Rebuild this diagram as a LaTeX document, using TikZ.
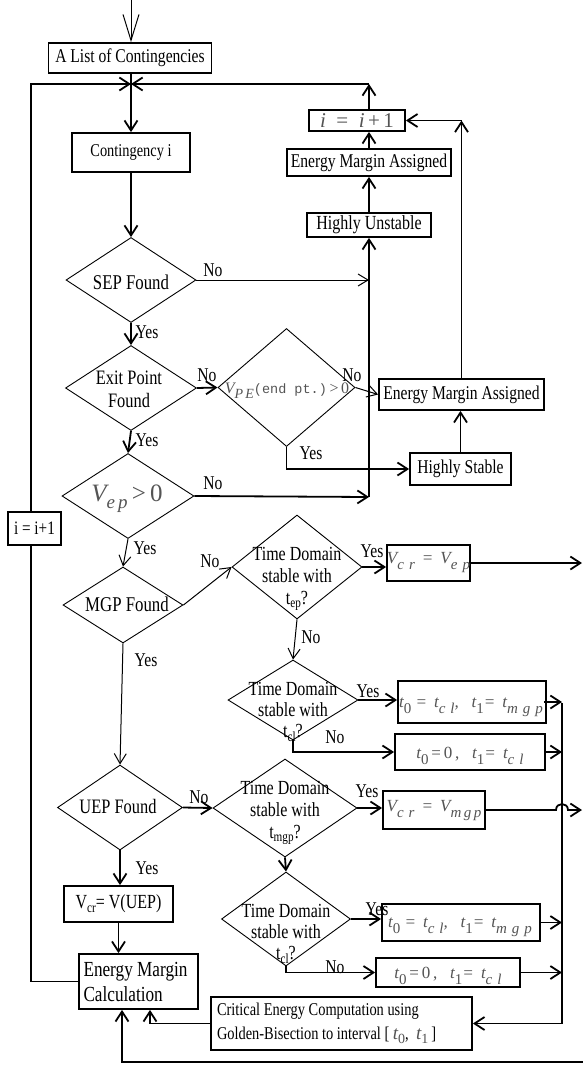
\documentclass[tikz,border=0pt]{standalone}
\usepackage{fontspec}
\setmainfont{Liberation Serif}[FakeStretch=0.8]
\newfontfamily\mfont{Liberation Serif}
\newfontfamily\monof{Liberation Mono}
\usetikzlibrary{shapes.geometric,arrows.meta}
\definecolor{mgray}{gray}{0.33}
\newcommand\fsz[2]{\fontsize{#1}{#2}\selectfont}
\newcommand\lo[1]{\raisebox{-6pt}{\fsz{15}{15}#1}}
\newcommand\sbs[1]{\raisebox{-3.5pt}{\fsz{14}{14}#1}}
\begin{document}
\begin{tikzpicture}[x=1pt,y=-1pt,
  box/.style={draw,line width=1.8pt,inner sep=0pt,fill=white,align=center},
  dia/.style={draw,diamond,line width=0.9pt,inner sep=0pt},
  txt/.style={inner sep=0pt,align=center},
  lbl/.style={inner sep=0pt,font=\fsz{19.5}{20}},
  con/.style={line width=1.8pt,-{Straight Barb[length=10pt,width=13pt]}},
  tcon/.style={line width=1pt,-{Straight Barb[length=10pt,width=12pt]}},
  mth/.style={inner sep=0pt,text=mgray},
]
\useasboundingbox (0,0) rectangle (583,1068);

% ---- nodes ----
\node[box,minimum width=163,minimum height=30,font=\fsz{19.5}{22}] (list) at (130,58) {A List of Contingencies};
\node[box,minimum width=118,minimum height=39,font=\fsz{18}{20}] (cont) at (131,152.5) {Contingency i};

\node[dia,minimum width=130,minimum height=85] (sep) at (131,280) {};
\node[txt,font=\fsz{21}{22}] (sept) at (131,282) {SEP Found};
\node[dia,minimum width=131,minimum height=85] (ex) at (131,388) {};
\node[txt,font=\fsz{20.5}{23}] (ext) at (129,389) {Exit Point\\Found};
\node[dia,minimum width=137,minimum height=118] (vpe) at (286.5,387.5) {};
\node[mth,font=\mfont\fsz{16}{16}] (vpet) at (287,391) {{\itshape V}\raisebox{-5pt}{\fsz{14}{14}\itshape P\,E}{\monof\fsz{13.5}{14}(end pt.)}\,>\,0};

\node[box,minimum width=164,minimum height=27,font=\fsz{19.5}{22}] (ema1) at (369,162.5) {Energy Margin Assigned};
\node[box,minimum width=124,minimum height=24,font=\fsz{20}{22}] (hu) at (369,225) {Highly Unstable};
\node[box,minimum width=96,minimum height=21] (iinc) at (357,120.5) {};
\node[mth,font=\mfont\fsz{21}{21}] (iinct) at (357,120.5) {{\itshape i}\ \ =\ \ {\itshape i}\,+\,1};
\node[box,minimum width=165,minimum height=31,font=\fsz{19.5}{22}] (ema2) at (461.5,394.5) {Energy Margin Assigned};
\node[box,minimum width=101,minimum height=32,font=\fsz{19.5}{22}] (hs) at (460.5,469) {Highly Stable};

\node[dia,minimum width=132,minimum height=85] (vep) at (128,496) {};
\node[mth,font=\mfont\fsz{25}{25}] (vept) at (127,499) {{\itshape V}\raisebox{-7pt}{\fsz{19}{19}\itshape e\,p}\,>\,0};

\node[dia,minimum width=120,minimum height=76] (mgp) at (123,605) {};
\node[txt,font=\fsz{21}{22}] (mgpt) at (127,604) {MGP Found};

\node[dia,minimum width=130,minimum height=104] (td1) at (297,567) {};
\node[txt,font=\fsz{20}{22}] (td1t) at (297,579) {Time Domain\\stable with\\t\sbs{ep}?};
\node[box,minimum width=83,minimum height=36] (vcrep) at (428.5,563) {};
\node[mth,font=\mfont\itshape\fsz{17}{17}] (vcrept) at (428.5,563) {V\lo{c\,\,r}\ \,=\ \,V\lo{e\,\,p}};

\node[dia,minimum width=130,minimum height=80] (td2) at (293,700) {};
\node[txt,font=\fsz{20}{21}] (td2t) at (293,712) {Time Domain\\stable with\\t\sbs{cl}?};
\node[box,minimum width=148,minimum height=42] (b1) at (472,702) {};
\node[mth,font=\mfont\itshape\fsz{17}{17}] (b1t) at (471,707) {t\lo{\upshape 0}\ =\ \,t\lo{c\,\,l},\ \ \ t\lo{\upshape 1}=\ \,t\lo{m\,\,g\,\,p}};
\node[box,minimum width=150,minimum height=36] (b2) at (470,752) {};
\node[mth,font=\mfont\itshape\fsz{17}{17}] (b2t) at (470,756) {t\lo{\upshape 0}{\upshape\,=\,0\,,}\ \ \ t\lo{\upshape 1}=\ \,t\lo{c\,\,l}};

\node[dia,minimum width=125,minimum height=85] (uep) at (120,807.5) {};
\node[txt,font=\fsz{20.5}{22}] (uept) at (118,806) {UEP Found};

\node[dia,minimum width=144,minimum height=98] (td3) at (285,808) {};
\node[txt,font=\fsz{20}{22}] (td3t) at (285,813) {Time Domain\\stable with\\t\sbs{mgp}?};
\node[box,minimum width=102,minimum height=38] (vcrmgp) at (434,810) {};
\node[mth,font=\mfont\itshape\fsz{17}{17}] (vcrmgpt) at (434,811) {V\lo{c\,\,r}\ \,=\ \,V\lo{m\,g\,p}};

\node[dia,minimum width=129,minimum height=94] (td4) at (286,919) {};
\node[txt,font=\fsz{20}{21}] (td4t) at (286,934) {Time Domain\\stable with\\t\sbs{cl}?};
\node[box,minimum width=158,minimum height=37] (b3) at (461,922.5) {};
\node[mth,font=\mfont\itshape\fsz{17}{17}] (b3t) at (460,927) {t\lo{\upshape 0}\ =\ \,t\lo{c\,\,l},\ \ \ t\lo{\upshape 1}=\ \,t\lo{m\,\,g\,\,p}};
\node[box,minimum width=144,minimum height=29] (b4) at (448,972.5) {};
\node[mth,font=\mfont\itshape\fsz{17}{17}] (b4t) at (448,976) {t\lo{\upshape 0}{\upshape\,=\,0\,,}\ \ \ t\lo{\upshape 1}=\ \,t\lo{c\,\,l}};

\node[box,minimum width=109,minimum height=36,font=\fsz{20}{22}] (vuep) at (118.5,904) {V\sbs{cr}= V(UEP)};
\node[box,minimum width=119,minimum height=55,text width=110,font=\fsz{21.5}{25},align=flush left] (emc) at (138.5,981.5) {Energy Margin\\Calculation};
\node[box,minimum width=261,minimum height=53,text width=249,font=\fsz{18}{24},align=flush left] (crit) at (341.5,1023.5) {Critical Energy Computation using\\Golden-Bisection to interval [\ {\mfont\itshape\color{mgray}\fsz{19}{24}t\sbs{\upshape 0}},\ \ {\mfont\itshape\color{mgray}\fsz{19}{24}t\sbs{\upshape 1}}\,]};

% ---- coordinates ----
\coordinate (entry) at (131,0);
\coordinate (J) at (131,84);
\coordinate (LT) at (31,84);
\coordinate (V1) at (369,497);
\coordinate (RB) at (562,703);
\coordinate (RE1) at (582,563);
\coordinate (EB) at (122,1062);
\coordinate (BR) at (583,1062);
\coordinate (EC) at (150,1027);

% ---- connectors ----
\draw[line width=1pt,-{Straight Barb[length=26pt,width=16pt]}] (entry) -- (entry |- list.north);
\draw[con] (cont.north |- list.south) -- (cont.north);
\draw[con] (cont.south) -- (sep.north);
\draw[tcon] (sep.east) -- (sep.east -| V1);
\draw[con] (sep.south) -- (ex.north);
\draw[con] (ex.east) -- (vpe.west);
\draw[tcon] (vpe.east) -- (ema2.west);
\draw[con] (vpe.south) |- (hs.west);
\draw[con] (hs.north) -- (hs.north |- ema2.south);
\draw[con] (ema2.north) -- (ema2.north |- iinc.east);
\draw[con] (ema2.north |- iinc.east) -- (iinc.east);
\draw[con] (ex.south) -- (vep.north);
\draw[con] (vep.east) -- (V1);
\draw[con] (V1) -- (hu.south);
\draw[con] (hu.north) -- (ema1.south);
\draw[con] (ema1.north) -- (ema1.north |- iinc.south);
\draw[con] (ema1.north |- iinc.north) -- (ema1.north |- J);
\draw[con] (ema1.north |- J) -- (J);
\draw[con] (emc.west) -- (emc.west -| LT) -- (LT) -- (J);
\node[box,minimum width=53,minimum height=33,font=\fsz{19}{20}] (ii) at (34.5,528.5) {i = i+1};

\draw[tcon] (vep.south) -- (mgp.north);
\draw[tcon] (mgp.east) -- (td1.west);
\draw[con] (td1.east) -- (td1.east -| vcrep.west);
\draw[con] (vcrep.east) -- (vcrep.east -| RE1);
\draw[tcon] (td1.south) -- (td2.north);
\draw[con] (td2.east) -- (td2.east -| b1.west);
\draw[con] (td2.south) |- (b2.west);
\draw[tcon] (mgp.south) -- (uep.north);
\draw[con] (uep.east) -- (td3.west);
\draw[con] (td3.east) -- (td3.east -| vcrmgp.west);
\draw[con] (vcrmgp.east) -- (556,810) .. controls (556,802) and (568,802) .. (568,810) -- (582,810);
\draw[con] (td3.south) -- (td4.north);
\draw[con] (td4.east) -- (td4.east -| b3.west);
\draw[con] (td4.south) |- (b4.west);
\draw[con] (uep.south) -- (uep.south |- vuep.north);
\draw[con] (vuep.south) -- (vuep.south |- emc.north);

\draw[con] ([xshift=-3pt]b1.east) -- (b1.east -| RB);
\draw[con] (b2.east) -- (b2.east -| RB);
\draw[con] (b3.east) -- (b3.east -| RB);
\draw[con] (b4.east) -- (b4.east -| RB);
\draw[con] (RB) |- (crit.east);
\draw[con] (crit.west) -- (crit.west -| EC) -- (EC |- emc.south);
\draw[con] (BR) -- (EB) -- (EB |- emc.south);

% ---- labels ----
\node[lbl] (l1) at (213,270) {No};
\node[lbl] (l2) at (147,332) {Yes};
\node[lbl] (l3) at (207,375) {No};
\node[lbl] (l4) at (147,440) {Yes};
\node[lbl] (l5) at (352,375) {No};
\node[lbl] (l6) at (311,453) {Yes};
\node[lbl] (l7) at (213,483) {No};
\node[lbl] (l8) at (145,548) {Yes};
\node[lbl] (l9) at (210,561) {No};
\node[lbl] (l10) at (146,660) {Yes};
\node[lbl] (l11) at (372,551) {Yes};
\node[lbl] (l12) at (311,637) {No};
\node[lbl] (l13) at (368,691) {Yes};
\node[lbl] (l14) at (335,737) {No};
\node[lbl] (l15) at (199,797) {No};
\node[lbl] (l16) at (147,868) {Yes};
\node[lbl] (l17) at (367,791) {Yes};
\node[lbl] (l18) at (377,909) {Yes};
\node[lbl] (l19) at (335,967) {No};
\end{tikzpicture}
\end{document}
